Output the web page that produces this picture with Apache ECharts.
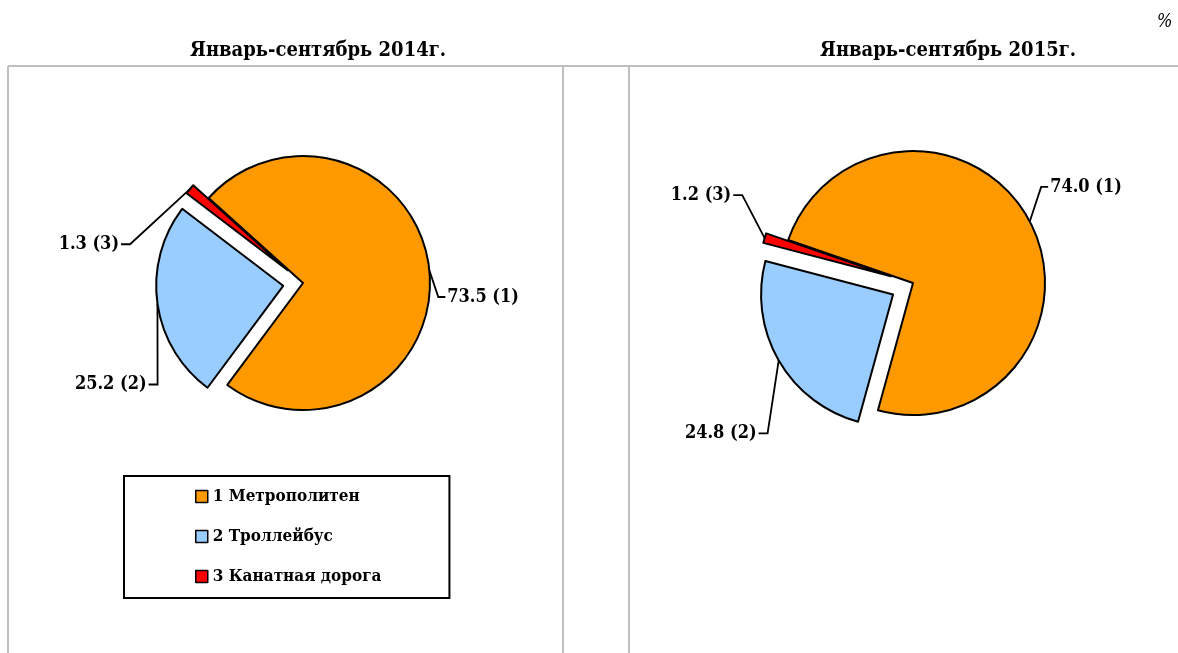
<!DOCTYPE html>
<html>
<head>
<meta charset="utf-8">
<script src="https://cdn.jsdelivr.net/npm/echarts@6/dist/echarts.min.js"></script>
<style>
  html, body { margin: 0; padding: 0; background: #fff; }
  #chart { width: 1178px; height: 653px; }
</style>
</head>
<body>
<div id="chart"></div>
<script>
// data
const categories = ['1 Метрополитен', '2 Троллейбус', '3 Канатная дорога'];
const years = ['Январь-сентябрь 2014г.', 'Январь-сентябрь 2015г.'];
const values2014 = [73.5, 25.2, 1.3];
const values2015 = [74.0, 24.8, 1.2];
const colors = ['#ff9900', '#99ccff', '#ff0000'];

const fontFamily = '"DejaVu Serif Condensed", "DejaVu Serif", serif';

let makeData = (values) => {
  return values.map((v, i) => {
    return { name: categories[i], value: v, selected: i > 0 };
  });
}

let labelText = (p) => {
  return p.value.toFixed(1) + ' (' + (p.dataIndex + 1) + ')';
}

// labelShift: nudges for each label, to sit them where Excel put them.
// the leader line is then redrawn Excel-like: edge point -> elbow -> label side
let pieSeries = (values, center, radius, startAngle, offset, labelShift) => {
  return {
    type: 'pie',
    center: center,
    radius: radius,
    startAngle: startAngle,
    clockwise: true,
    selectedMode: 'multiple',
    selectedOffset: offset,
    animation: false,
    data: makeData(values),
    itemStyle: { borderColor: '#000', borderWidth: 2 },
    label: {
      show: true,
      position: 'outside',
      formatter: labelText,
      color: '#000',
      fontFamily: fontFamily,
      fontWeight: 'bold',
      fontSize: 18
    },
    labelLine: {
      show: true,
      length: 14,
      length2: 10,
      lineStyle: { color: '#000', width: 1.8 }
    },
    labelLayout: function (p) {
      let s = labelShift[p.dataIndex];
      let r = p.labelRect;
      let x = r.x + s[0];
      let cy = r.y + s[1] + r.height / 2;
      let edge = p.labelLinePoints ? p.labelLinePoints[0] : [center[0], center[1]];
      let onLeft = (x + r.width / 2) < center[0];
      let end = onLeft ? [x + r.width + 2, cy] : [x - 2, cy];
      let elbow = onLeft ? [end[0] + 9, cy] : [end[0] - 7, cy];
      return { dx: s[0], dy: s[1], labelLinePoints: [edge, elbow, end] };
    },
    emphasis: { scale: false },
    select: { itemStyle: { borderColor: '#000', borderWidth: 2 } }
  };
}

let chart = echarts.init(document.getElementById('chart'));

let options = {
  color: colors,
  title: [
    { text: years[0], left: 313, top: 36, textAlign: 'center',
      textStyle: { fontFamily: fontFamily, fontWeight: 'bold', fontSize: 20, color: '#000' } },
    { text: years[1], left: 943, top: 36, textAlign: 'center',
      textStyle: { fontFamily: fontFamily, fontWeight: 'bold', fontSize: 20, color: '#000' } },
    { text: '%', left: 1152, top: 8,
      textStyle: { fontFamily: fontFamily, fontStyle: 'italic', fontWeight: 'normal', fontSize: 18, color: '#000' } }
  ],
  legend: {
    orient: 'vertical',
    left: 124,
    top: 476,
    data: categories,
    selectedMode: false,
    borderColor: '#000',
    borderWidth: 2,
    borderRadius: 0,
    padding: [12, 68, 13, 71],
    itemWidth: 12,
    itemHeight: 12,
    itemGap: 23,
    icon: 'rect',
    itemStyle: { borderColor: '#000', borderWidth: 1.5 },
    textStyle: { fontFamily: fontFamily, fontWeight: 'bold', fontSize: 17, color: '#000' }
  },
  graphic: [
    { type: 'line', shape: { x1: 8, y1: 66, x2: 1178, y2: 66 }, style: { stroke: '#bfbfbf', lineWidth: 2 } },
    { type: 'line', shape: { x1: 8, y1: 66, x2: 8, y2: 653 }, style: { stroke: '#bfbfbf', lineWidth: 2 } },
    { type: 'line', shape: { x1: 563, y1: 66, x2: 563, y2: 653 }, style: { stroke: '#bfbfbf', lineWidth: 2 } },
    { type: 'line', shape: { x1: 629, y1: 66, x2: 629, y2: 653 }, style: { stroke: '#bfbfbf', lineWidth: 2 } }
  ],
  series: [
    pieSeries(values2014, [303, 283], 127, 138, 20, [[-11, 28], [18, 79], [-45, 64]]),
    pieSeries(values2015, [913, 283], 132, 161, 23, [[-7, -28], [5, 66], [-5, -39]])
  ]
};

chart.setOption(options);
</script>
</body>
</html>
